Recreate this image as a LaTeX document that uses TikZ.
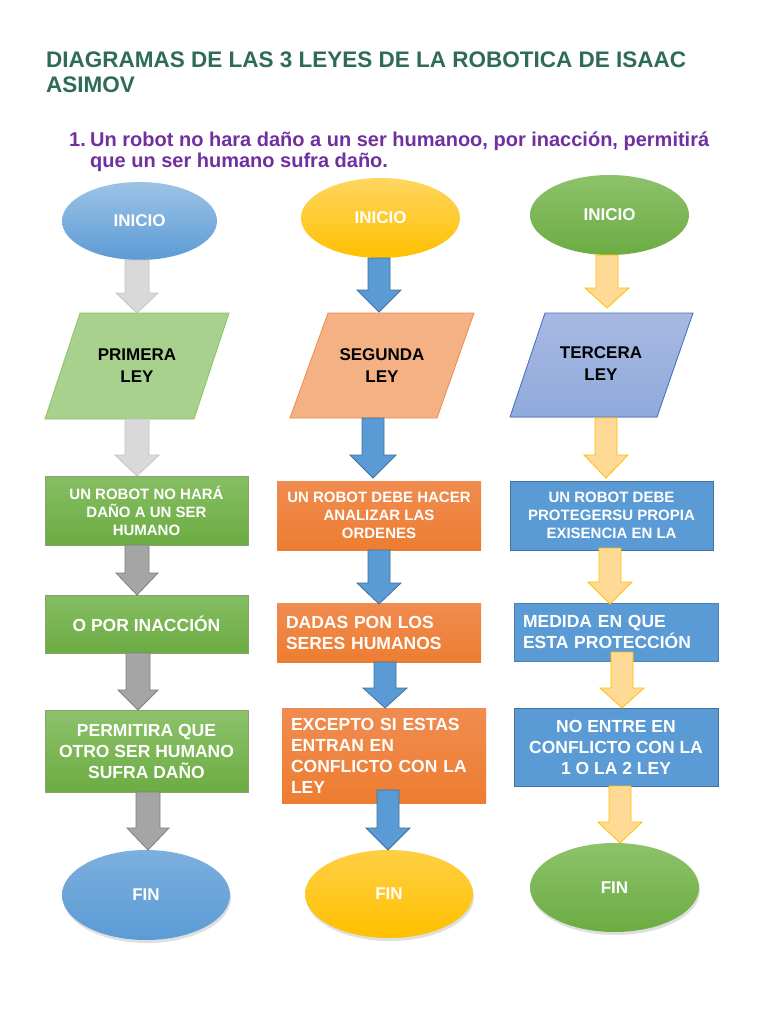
\documentclass[tikz,border=0pt]{standalone}
\usepackage{fontspec}
\setmainfont{Liberation Sans}
\usetikzlibrary{shapes.geometric,shadows}
\definecolor{titlegreen}{HTML}{2E6B58}
\definecolor{subpurple}{HTML}{7030A0}
\definecolor{blueA}{HTML}{9DC3E6}
\definecolor{blueB}{HTML}{5B9BD5}
\definecolor{blueL}{HTML}{41719C}
\definecolor{yelA}{HTML}{FFD660}
\definecolor{yelB}{HTML}{FFC000}
\definecolor{grnA}{HTML}{8DC26B}
\definecolor{grnB}{HTML}{6CAC42}
\definecolor{grnL}{HTML}{507E32}
\definecolor{orA}{HTML}{F08C50}
\definecolor{orB}{HTML}{ED7D31}
\definecolor{lgrn}{HTML}{A9D18E}
\definecolor{lgrnL}{HTML}{8CC06A}
\definecolor{lor}{HTML}{F4B183}
\definecolor{lorL}{HTML}{F08A4B}
\definecolor{lvA}{HTML}{A8B8E2}
\definecolor{lvB}{HTML}{8FAADC}
\definecolor{lvL}{HTML}{4472C4}
\definecolor{gryA}{HTML}{D9D9D9}
\definecolor{gryAL}{HTML}{C4C4C4}
\definecolor{gryB}{HTML}{A5A5A5}
\definecolor{gryBL}{HTML}{7F7F7F}
\definecolor{peach}{HTML}{FFD996}
\definecolor{peachL}{HTML}{FFC000}
\newcommand{\blockarr}[7]{%
  \draw[#1] ({#2-#3},#5) -- ({#2+#3},#5) -- ({#2+#3},#6) -- ({#2+#4},#6) --
    (#2,#7) -- ({#2-#4},#6) -- ({#2-#3},#6) -- cycle;}
\tikzset{
  ovalshape/.style={ellipse, inner sep=0pt, font=\bfseries\fontsize{17}{20}\selectfont, text=white},
  boxshape/.style={rectangle, inner sep=0pt, font=\bfseries\fontsize{15}{18}\selectfont, text=white, align=center},
  bigtext/.style={font=\bfseries\fontsize{17.5}{21}\selectfont},
  lawtext/.style={inner sep=0pt, font=\bfseries\fontsize{17}{22}\selectfont, align=center, text=black},
  arrG1/.style={fill=gryA, draw=gryAL, line width=0.8pt, line join=miter},
  arrG2/.style={fill=gryB, draw=gryBL, line width=0.8pt, line join=miter},
  arrBl/.style={fill=blueB, draw=blueL, line width=0.8pt, line join=miter},
  arrPe/.style={fill=peach, draw=peachL, line width=0.8pt, line join=miter},
  shad/.style={drop shadow={shadow xshift=1pt, shadow yshift=-3pt, opacity=0.25}},
}
\begin{document}
\begin{tikzpicture}[x=1pt,y=-1pt]
\useasboundingbox[fill=white] (0,0) rectangle (768,1024);

% titles
\node[anchor=base west, inner sep=0pt, text=titlegreen, font=\bfseries\fontsize{22.5}{25}\selectfont] (t1) at (46,68) {DIAGRAMAS DE LAS 3 LEYES DE LA ROBOTICA DE ISAAC};
\node[anchor=base west, inner sep=0pt, text=titlegreen, font=\bfseries\fontsize{22.5}{25}\selectfont] (t2) at (46,93) {ASIMOV};
\node[anchor=base west, inner sep=0pt, text=subpurple, font=\bfseries\fontsize{20}{24}\selectfont] (s1) at (69,147) {1.};
\node[anchor=base west, inner sep=0pt, text=subpurple, font=\bfseries\fontsize{20}{24}\selectfont] (s2) at (90,147) {Un robot no hara daño a un ser humanoo, por inacción, permitirá};
\node[anchor=base west, inner sep=0pt, text=subpurple, font=\bfseries\fontsize{20}{24}\selectfont] (s3) at (90,168) {que un ser humano sufra daño.};

% ---------- column 1 ----------
\node[ovalshape, minimum width=155pt, minimum height=78pt, top color=blueA, bottom color=blueB] (i1) at (139.5,221) {INICIO};
\fill[lgrn, draw=lgrnL, line width=0.8pt] (80,313) -- (229,313) -- (194,419) -- (45,419) -- cycle;
\node[lawtext] (p1) at (137,366) {PRIMERA\\LEY};
\node[boxshape, minimum width=203pt, minimum height=69pt, top color=grnA!80!grnB, bottom color=grnB, draw=grnL!70, line width=0.6pt] (b11) at (146.5,510.5) {UN ROBOT NO HARÁ\\DAÑO A UN SER\\HUMANO};
\node[boxshape, bigtext, minimum width=203pt, minimum height=58pt, top color=grnA!80!grnB, bottom color=grnB, draw=grnL!70, line width=0.6pt] (b12) at (146.5,624) {O POR INACCIÓN};
\node[boxshape, bigtext, minimum width=203pt, minimum height=82pt, top color=grnA, bottom color=grnB, draw=grnL!70, line width=0.6pt] (b13) at (146.5,751) {PERMITIRA QUE\\OTRO SER HUMANO\\SUFRA DAÑO};
\node[ovalshape, shad, minimum width=168pt, minimum height=90pt, top color=blueB!80!white, bottom color=blueB] (f1) at (146,895) {FIN};
\blockarr{arrG1}{137}{12}{21}{260}{293}{313}
\blockarr{arrG1}{137}{12}{22}{419}{455}{476}
\blockarr{arrG2}{137}{12}{21}{545}{573}{595}
\blockarr{arrG2}{138}{12}{20}{653}{690}{710}
\blockarr{arrG2}{148}{12}{21}{792}{828}{850}

% ---------- column 2 ----------
\node[ovalshape, minimum width=159pt, minimum height=80pt, top color=yelA, bottom color=yelB] (i2) at (380.5,218) {INICIO};
\fill[lor, draw=lorL, line width=0.8pt] (328,313) -- (474,313) -- (437,418) -- (290,418) -- cycle;
\node[lawtext] (p2) at (382,366) {SEGUNDA\\LEY};
\node[boxshape, minimum width=204pt, minimum height=69pt, top color=orA, bottom color=orB] (b21) at (379,515.5) {UN ROBOT DEBE HACER\\ANALIZAR LAS\\ORDENES};
\node[boxshape, bigtext, minimum width=204pt, minimum height=59pt, text width=186pt, align=left, top color=orA, bottom color=orB] (b22) at (379,632.5) {DADAS PON LOS\\SERES HUMANOS};
\node[boxshape, bigtext, minimum width=204pt, minimum height=95pt, text width=186pt, align=left, top color=orA, bottom color=orB] (b23) at (384,755.5) {EXCEPTO SI ESTAS\\ENTRAN EN\\CONFLICTO CON LA\\LEY};
\node[ovalshape, shad, minimum width=168pt, minimum height=88pt, top color=yelA!70!yelB, bottom color=yelB] (f2) at (389,894) {FIN};
\blockarr{arrBl}{379}{11}{22}{258}{290}{312}
\blockarr{arrBl}{373}{11}{23}{418}{455}{478}
\blockarr{arrBl}{379}{11}{22}{550}{583}{604}
\blockarr{arrBl}{385}{11}{22}{662}{688}{708}
\blockarr{arrBl}{388}{11}{22}{790}{828}{850}

% ---------- column 3 ----------
\node[ovalshape, minimum width=159pt, minimum height=80pt, top color=grnA, bottom color=grnB] (i3) at (609.5,215) {INICIO};
\fill[top color=lvA, bottom color=lvB, draw=lvL, line width=0.8pt] (545,313) -- (693,313) -- (657,417) -- (510,417) -- cycle;
\node[lawtext] (p3) at (601,364) {TERCERA\\LEY};
\node[boxshape, minimum width=203pt, minimum height=69pt, fill=blueB, draw=blueL, line width=0.8pt] (b31) at (611.5,515.5) {UN ROBOT DEBE\\PROTEGERSU PROPIA\\EXISENCIA EN LA};
\node[boxshape, bigtext, minimum width=204pt, minimum height=58pt, text width=186pt, align=left, fill=blueB, draw=blueL!60!blueB, line width=0.6pt] (b32) at (616,632) {MEDIDA EN QUE\\ESTA PROTECCIÓN};
\node[boxshape, bigtext, minimum width=204pt, minimum height=78pt, fill=blueB, draw=blueL, line width=0.8pt] (b33) at (616,747) {NO ENTRE EN\\CONFLICTO CON LA\\1 O LA 2 LEY};
\node[ovalshape, shad, minimum width=169pt, minimum height=89pt, top color=grnA, bottom color=grnB] (f3) at (614.5,887.5) {FIN};
\blockarr{arrPe}{607}{11}{22}{255}{288}{308}
\blockarr{arrPe}{606}{11}{22}{418}{455}{478}
\blockarr{arrPe}{610}{11}{22}{548}{582}{604}
\blockarr{arrPe}{622}{11}{22}{652}{688}{708}
\blockarr{arrPe}{620}{11}{22}{786}{822}{843}
\end{tikzpicture}
\end{document}
